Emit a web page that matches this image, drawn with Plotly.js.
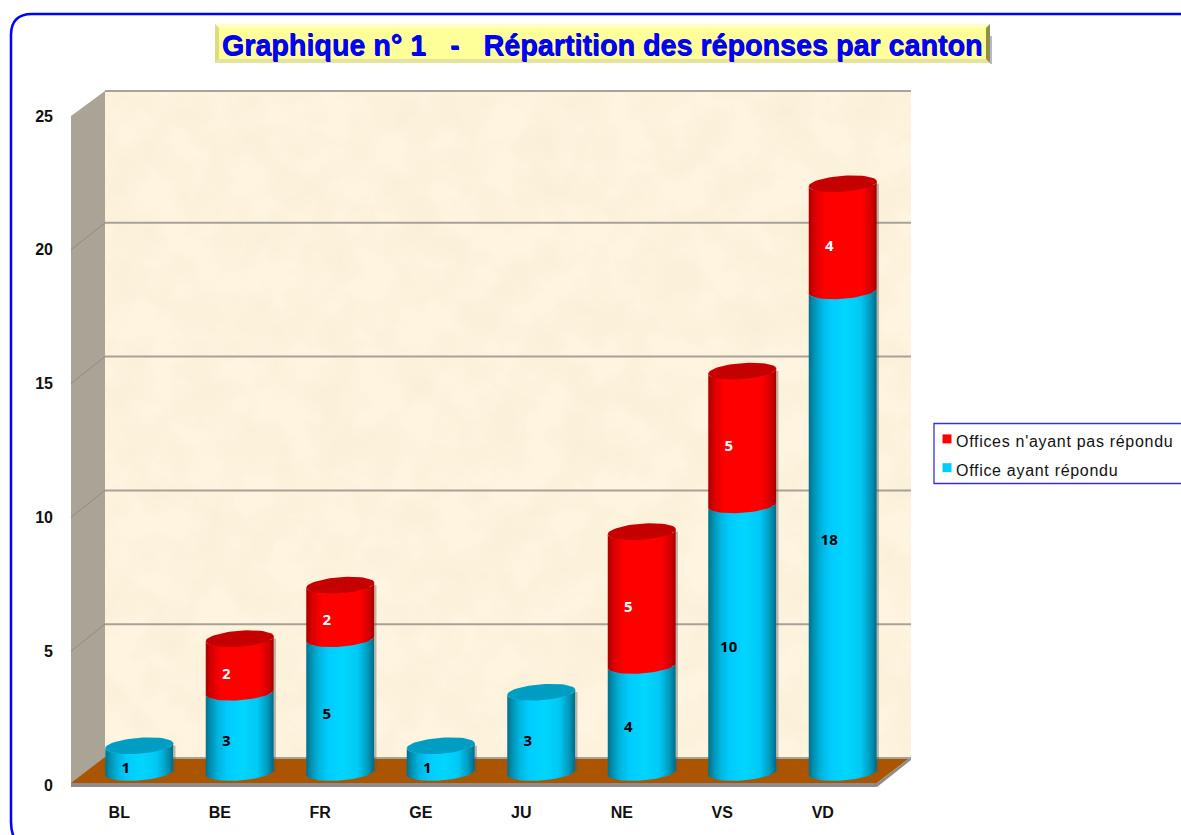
<!DOCTYPE html>
<html><head><meta charset="utf-8">
<script src="https://cdn.plot.ly/plotly-3.0.1.min.js"></script>
<style>
html,body{margin:0;padding:0;background:#fff;overflow:hidden}
#c{width:1181px;height:835px}
.legendtext{letter-spacing:.7px;transform:translateX(-11px)}
.legendpoints path{transform:translate(20px,-2px) scale(.75)}
</style></head><body><div id="c"></div>
<script>
const categories=["BL","BE","FR","GE","JU","NE","VS","VD"];
const answered=[1,3,5,1,3,4,10,18];
const notAnswered=[0,2,2,0,0,5,5,4];
const yTicks=[0,5,10,15,20,25];
const titleText="Graphique n° 1\u00a0\u00a0\u00a0-\u00a0\u00a0\u00a0Répartition des réponses par canton";
const nameAnswered="Office ayant répondu";
const nameNot="Offices n'ayant pas répondu";

const W=1181,H=835,L=71,R=911,T=91,B=785;
const px=x=>(x-L)/(R-L), py=y=>(B-y)/(B-T);
const unit=26.76,pitch=100.5;
const yTop=(B-T)/unit, xEnd=-0.5+(R-L)/pitch;
const dx=18/pitch, dy=12.5/unit, wallDy=27/unit;
const rx=34/pitch, ry=8/unit, tilt=2.5/unit;

const blueScale=[[0,'#00708c'],[.07,'#0090b0'],[.18,'#00b4de'],[.32,'#00ccff'],[.55,'#00d6ff'],[.76,'#00c8f4'],[.9,'#009cc0'],[1,'#006a86']];
const redScale=[[0,'#a80000'],[.08,'#d80000'],[.24,'#ff0000'],[.78,'#ff0000'],[.93,'#d00000'],[1,'#a00000']];

const ell=(i,v,a)=>[i+rx*Math.cos(a), v+tilt*Math.cos(a)-ry*Math.sin(a)];
function arc(i,v,from,to,n){const xs=[],ys=[];for(let k=0;k<=n;k++){const p=ell(i,v,from+(to-from)*k/n);xs.push(p[0]);ys.push(p[1]);}return [xs,ys];}
function body(i,lo,hi,scale){
  const a=arc(i,hi,Math.PI,0,30), b=arc(i,lo,0,Math.PI,30);
  return {type:'scatter',xaxis:'x2',yaxis:'y2',x:a[0].concat(b[0]),y:a[1].concat(b[1]),mode:'lines',line:{width:0},fill:'toself',
    fillgradient:{type:'horizontal',colorscale:scale},showlegend:false,hoverinfo:'skip'};
}
function cap(i,v,color){
  const a=arc(i,v,0,2*Math.PI,60);
  return {type:'scatter',xaxis:'x2',yaxis:'y2',x:a[0],y:a[1],mode:'lines',line:{width:0},fill:'toself',fillcolor:color,showlegend:false,hoverinfo:'skip'};
}
const idx=categories.map((_,i)=>i);
const traces=[
 {type:'bar',name:nameAnswered,legendgroup:'a',legendrank:2,x:idx,y:answered,width:.6,xaxis:'x2',yaxis:'y2',marker:{color:'#00ccff'},hoverinfo:'skip'},
 {type:'bar',name:nameNot,legendgroup:'b',legendrank:1,x:idx,y:notAnswered,width:.6,xaxis:'x2',yaxis:'y2',marker:{color:'#ff0000'},hoverinfo:'skip'},
 {type:'scatter',x:[0],y:[-5],mode:'markers',marker:{opacity:0},showlegend:false,hoverinfo:'skip'}
];
idx.forEach(i=>{
  const top=answered[i]+notAnswered[i];
  traces.push({type:'scatter',xaxis:'x2',yaxis:'y2',x:[i+rx+.012,i+rx+.012],y:[0,top],mode:'lines',line:{color:'rgba(90,90,90,.4)',width:2},showlegend:false,hoverinfo:'skip'});
  traces.push(body(i,0,answered[i],blueScale));
  if(notAnswered[i]>0){
    traces.push(body(i,answered[i],top,redScale));
    traces.push(cap(i,top,'#c40000'));
  } else traces.push(cap(i,answered[i],'#009dc2'));
});
const lx=[],ly=[],lt=[],lc=[];
idx.forEach(i=>{
  lx.push(i-.135);ly.push(answered[i]/2-.36);lt.push(String(answered[i]));lc.push('#000');
  if(notAnswered[i]>0){lx.push(i-.135);ly.push(answered[i]+notAnswered[i]/2-.36);lt.push(String(notAnswered[i]));lc.push('#fff');}
});
traces.push({type:'scatter',xaxis:'x2',yaxis:'y2',x:lx,y:ly,text:lt,mode:'text',textposition:'middle center',
  textfont:{family:'"Open Sans",sans-serif',size:15,weight:700,color:lc},showlegend:false,hoverinfo:'skip'});

const poly=(pts,fill,line,lw,layer)=>({type:'path',xref:'paper',yref:'paper',layer:layer||'below',
  path:'M'+pts.map(p=>px(p[0])+','+py(p[1])).join('L')+'Z',fillcolor:fill,line:{width:lw||0,color:line||fill}});
const shapes=[];
shapes.push(poly([[71,116],[105,91],[105,758],[71,785]],'#aaa496'));
shapes.push(poly([[71,783],[105,757],[911,757],[877,783]],'#ab5500'));
shapes.push(poly([[71,783],[877,783],[911,757],[911,760],[877,787],[71,787]],'#8c8c8c'));
shapes.push(poly([[105,90],[911,90],[911,92],[105,92]],'#a8a299'));
yTicks.slice(1,5).concat([0]).forEach(v=>{
  const yb=v+wallDy;
  shapes.push({type:'line',layer:'below',xref:'paper',yref:'y',x0:px(105),x1:1,y0:yb,y1:yb,line:{color:'#a7a297',width:2}});
  if(v>0)shapes.push({type:'line',layer:'below',xref:'paper',yref:'y',x0:0,x1:px(105),y0:v,y1:yb,line:{color:'#8f8b84',width:1}});
});
shapes.push({type:'path',xref:'paper',yref:'paper',layer:'below',line:{color:'#0000ff',width:2.5},
 path:`M${px(1190)},${py(14)}L${px(32)},${py(14)}Q${px(11)},${py(14)} ${px(11)},${py(35)}L${px(11)},${py(822)}Q${px(11)},${py(835)} ${px(17)},${py(842)}`});
shapes.push(poly([[215,24],[990,24],[990,63],[215,63]],'#ffff99'));
shapes.push(poly([[215,24],[990,24],[986,28],[219,28]],'#ffffc4'));
shapes.push(poly([[215,24],[219,28],[219,59],[215,63]],'#dcdc80'));
shapes.push(poly([[215,63],[219,59],[986,59],[990,63]],'#e4e4a0'));
shapes.push(poly([[990,24],[990,63],[986,59],[986,28]],'#8f8f48'));
shapes.push({type:'line',xref:'paper',yref:'paper',layer:'below',x0:px(991),x1:px(991),y0:py(36),y1:py(64),line:{color:'#7070b8',width:1}});
shapes.push({type:'rect',xref:'paper',yref:'paper',layer:'below',x0:px(934),x1:px(1190),y0:py(423.5),y1:py(483.5),fillcolor:'#fff',line:{color:'#3333dd',width:1.3}});

const tex="data:image/svg+xml;utf8,"+encodeURIComponent(`<svg xmlns="http://www.w3.org/2000/svg" width="806" height="667"><filter id="f" x="0" y="0" width="100%" height="100%"><feTurbulence type="fractalNoise" baseFrequency="0.024" numOctaves="4" seed="7"/><feColorMatrix values="0 0 0 0 .92  0 0 0 0 .82  0 0 0 0 .62  1 0 0 0 -.36"/></filter><rect width="806" height="667" fill="#fef4df"/><rect width="806" height="667" filter="url(#f)"/></svg>`);

const layout={
 width:W,height:H,autosize:false,showlegend:true,
 margin:{l:L,r:W-R,t:T,b:H-B,pad:0,autoexpand:false},
 paper_bgcolor:'#fff',plot_bgcolor:'rgba(0,0,0,0)',
 barmode:'stack',
 font:{family:'"Liberation Sans",Arial,sans-serif',color:'#000'},
 title:{text:titleText,x:602/W,xanchor:'center',y:1-45/H,yanchor:'middle',
   font:{family:'"Liberation Sans",Arial,sans-serif',size:28.7,weight:700,color:'#0000ff',shadow:'.7px .7px .5px #0000c8'}},
 xaxis:{range:[-.5,xEnd],tickmode:'array',tickvals:idx,ticktext:categories,showgrid:false,zeroline:false,showline:false,ticks:'',
   ticklabelstandoff:16,ticklabelshift:-2,tickfont:{size:16,weight:700,color:'#111'},fixedrange:true},
 yaxis:{range:[0,yTop],tickmode:'array',tickvals:yTicks,showgrid:false,zeroline:false,showline:false,ticks:'',
   ticklabelstandoff:17,tickfont:{size:16,weight:700,color:'#111'},fixedrange:true},
 xaxis2:{overlaying:'x',anchor:'y2',range:[-.5-dx,xEnd-dx],visible:false,fixedrange:true},
 yaxis2:{overlaying:'y',anchor:'x2',range:[-dy,yTop-dy],visible:false,fixedrange:true},
 legend:{x:px(927),xanchor:'left',y:py(424),yanchor:'top',traceorder:'grouped',tracegroupgap:5,bgcolor:'rgba(0,0,0,0)',borderwidth:0,
   font:{size:16,color:'#111'},itemclick:false,itemdoubleclick:false},
 shapes:shapes,
 images:[{source:tex,xref:'paper',yref:'paper',x:px(105),y:py(91),sizex:px(911)-px(105),sizey:py(91)-py(758),xanchor:'left',yanchor:'top',sizing:'stretch',layer:'below'}]
};
Plotly.newPlot('c',traces,layout,{displayModeBar:false});
</script></body></html>
